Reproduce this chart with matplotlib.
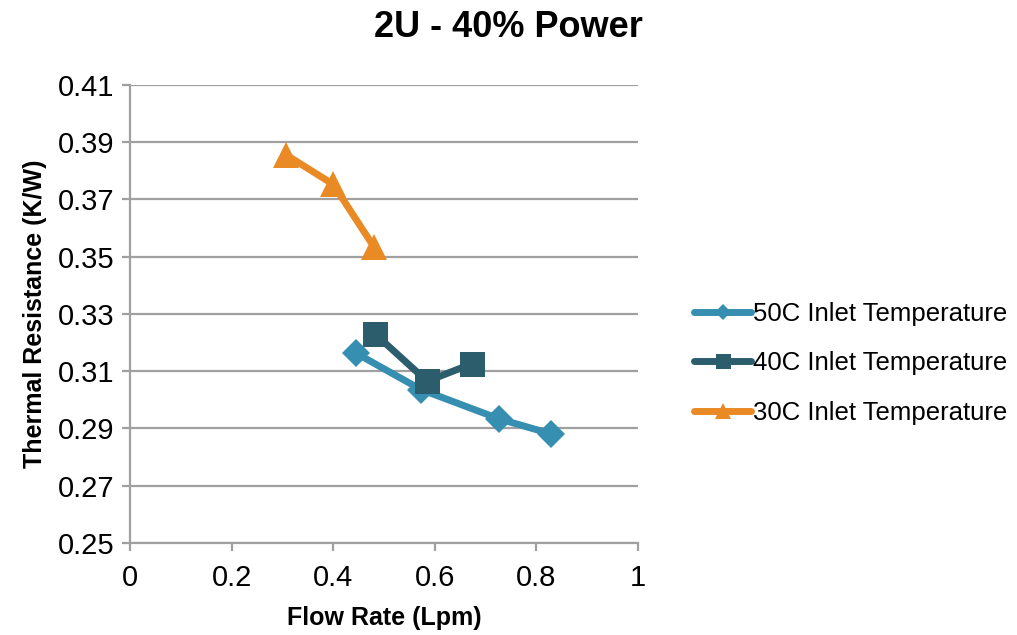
import matplotlib
matplotlib.use("Agg")
import matplotlib.pyplot as plt

# series
flow_50c = [0.444, 0.573, 0.726, 0.829]
res_50c = [0.3164, 0.3036, 0.2934, 0.2881]

flow_40c = [0.482, 0.585, 0.673]
res_40c = [0.3231, 0.3065, 0.3126]

flow_30c = [0.308, 0.400, 0.480]
res_30c = [0.3855, 0.3753, 0.3535]

x_ticks = [0, 0.2, 0.4, 0.6, 0.8, 1]
x_tick_labels = ["0", "0.2", "0.4", "0.6", "0.8", "1"]
y_ticks = [0.25, 0.27, 0.29, 0.31, 0.33, 0.35, 0.37, 0.39, 0.41]

series = [
    ("50C Inlet Temperature", flow_50c, res_50c, "#368FB0", "D", 14),
    ("40C Inlet Temperature", flow_40c, res_40c, "#2C5D6C", "s", 18),
    ("30C Inlet Temperature", flow_30c, res_30c, "#E98A25", "^", 19),
]

plt.rcParams["font.family"] = ["Liberation Sans", "DejaVu Sans"]

fig = plt.figure(figsize=(10.17, 6.35), dpi=100)
ax = fig.add_axes([0.1278, 0.1449, 0.4995, 0.7213])

grid_color = "#A0A0A0"
for label, xs, ys, color, marker, ms in series:
    ax.plot(xs, ys, color=color, linewidth=5, marker=marker, markersize=ms,
            markeredgewidth=0, solid_capstyle="round", solid_joinstyle="round",
            label=label, zorder=3)

ax.set_xlim(0, 1)
ax.set_ylim(0.25, 0.41)
ax.set_xticks(x_ticks)
ax.set_xticklabels(x_tick_labels)
ax.set_yticks(y_ticks)
ax.set_yticklabels([f"{v:.2f}" for v in y_ticks])

ax.yaxis.grid(True, color=grid_color, linewidth=1.6)
ax.xaxis.grid(False)
ax.set_axisbelow(True)

for side in ["top", "right"]:
    ax.spines[side].set_visible(False)
for side in ["left", "bottom"]:
    ax.spines[side].set_color(grid_color)
    ax.spines[side].set_linewidth(1.6)

ax.tick_params(axis="both", direction="out", length=6, width=1.6,
               color=grid_color, labelsize=21, labelcolor="black", pad=5)
ax.tick_params(axis="x", pad=9)

ax.set_xlabel("Flow Rate (Lpm)", fontsize=18, fontweight="bold", labelpad=10)
ax.set_ylabel("Thermal Resistance (K/W)", fontsize=18, fontweight="bold", labelpad=8)

fig.text(0.5, 0.957, "2U - 40% Power", ha="center", va="center",
         fontsize=26, fontweight="bold")

fig.legend(loc="center left", bbox_to_anchor=(0.66, 0.428), frameon=False,
           fontsize=18.5, handlelength=2.2, handletextpad=0.1, labelspacing=1.0,
           markerscale=0.6)

fig.savefig("out.png", dpi=100)
